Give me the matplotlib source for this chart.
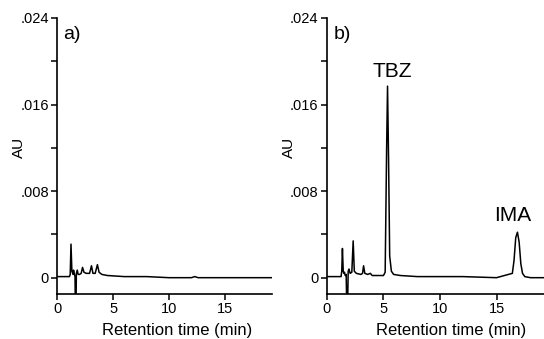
import matplotlib
matplotlib.use("Agg")
import matplotlib.pyplot as plt
from matplotlib.ticker import FixedLocator

plt.rcParams['font.family'] = ['Liberation Sans', 'DejaVu Sans']

# Panel a) trace (time in min, absorbance in AU)
time_a = [0.0, 1.1, 1.17, 1.24, 1.32, 1.42, 1.47, 1.55, 1.6, 1.63, 1.68, 1.72, 1.8, 1.88,
          2.0, 2.15, 2.27, 2.4, 2.6, 2.9, 3.07, 3.2, 3.4, 3.6, 3.75, 4.0, 4.5, 6.0,
          8.0, 10.0, 12.0, 12.3, 12.6, 15.0, 19.5]
au_a = [0.0001, 0.0001, 0.0003, 0.0031, 0.0006, 0.0003, 0.0007, 0.0003, 0.0001, -0.003,
        -0.003, 0.0004, 0.0007, 0.0003, 0.0003, 0.0004, 0.00095, 0.0005, 0.0004, 0.0004,
        0.0011, 0.0004, 0.0004, 0.0012, 0.0005, 0.0003, 0.0002, 0.0001,
        0.0001, 0.0, 0.0, 0.0001, 0.0, 0.0, 0.0]

# Panel b) trace
time_b = [0.0, 1.25, 1.31, 1.37, 1.44, 1.5, 1.55, 1.62, 1.7, 1.76, 1.82, 1.88, 1.95,
          2.05, 2.2, 2.32, 2.42, 2.6, 3.0, 3.15, 3.24, 3.35, 3.6, 3.84, 4.0, 4.5, 5.0,
          5.15, 5.28, 5.36, 5.45, 5.55, 5.7, 5.9, 6.5, 8.0, 10.0, 12.0, 15.0, 16.4,
          16.55, 16.7, 16.85, 17.0, 17.15, 17.3, 17.5, 18.0, 19.5]
au_b = [0.0001, 0.0001, 0.0006, 0.0027, 0.0006, 0.0004, 0.0005, 0.0002, 0.0003, -0.003,
        -0.003, 0.0006, 0.0008, 0.0004, 0.0005, 0.0034, 0.0006, 0.0004, 0.0003, 0.0004,
        0.0011, 0.0004, 0.0003, 0.0004, 0.0002, 0.0002, 0.0002,
        0.0005, 0.0120, 0.0177, 0.0110, 0.0020, 0.0006, 0.0003, 0.0002, 0.0001, 0.0001,
        0.0001, 0.0, 0.0004, 0.0016, 0.0037, 0.0042, 0.0033, 0.0013, 0.0004, 0.0001,
        0.0, 0.0]

y_ticks = [0, 0.008, 0.016, 0.024]
y_tick_labels = ['0', '.008', '.016', '.024']
y_minor_ticks = [0.004, 0.012, 0.020]
x_ticks = [0, 5, 10, 15]
x_tick_labels = ['0', '5', '10', '15']

fig = plt.figure(figsize=(5.44, 3.39), dpi=100)
ax_a = fig.add_axes([0.105, 0.133, 0.395, 0.814])
ax_b = fig.add_axes([0.601, 0.133, 0.399, 0.814])

for ax, t, v, lab, lx in [(ax_a, time_a, au_a, 'a)', 0.56), (ax_b, time_b, au_b, 'b)', 0.574)]:
    ax.plot(t, v, color='black', lw=1.1)
    ax.set_xlim(0, 19.2)
    ax.set_ylim(-0.0015, 0.024)
    ax.spines['top'].set_visible(False)
    ax.spines['right'].set_visible(False)
    for s in ('left', 'bottom'):
        ax.spines[s].set_linewidth(1.2)
    ax.yaxis.set_major_locator(FixedLocator(y_ticks))
    ax.set_yticklabels(y_tick_labels)
    ax.yaxis.set_minor_locator(FixedLocator(y_minor_ticks))
    ax.xaxis.set_major_locator(FixedLocator(x_ticks))
    ax.set_xticklabels(x_tick_labels)
    ax.tick_params(axis='both', which='both', direction='out', width=1.1, labelsize=10.5,
                   color='black')
    ax.tick_params(axis='both', which='major', length=4, pad=2)
    ax.tick_params(axis='y', which='minor', length=4)
    ax.set_ylabel('AU', fontsize=11)
    ax.yaxis.set_label_coords(-0.145, 0.53)
    ax.set_xlabel('Retention time (min)', fontsize=12)
    ax.xaxis.set_label_coords(lx, -0.105)
    ax.text(0.03, 0.97, lab, transform=ax.transAxes, fontsize=14, va='top', ha='left')

ax_b.text(5.8, 0.0185, 'TBZ', fontsize=15, ha='center', va='baseline')
ax_b.text(16.45, 0.0052, 'IMA', fontsize=15, ha='center', va='baseline')

fig.savefig('out.png', dpi=100)
